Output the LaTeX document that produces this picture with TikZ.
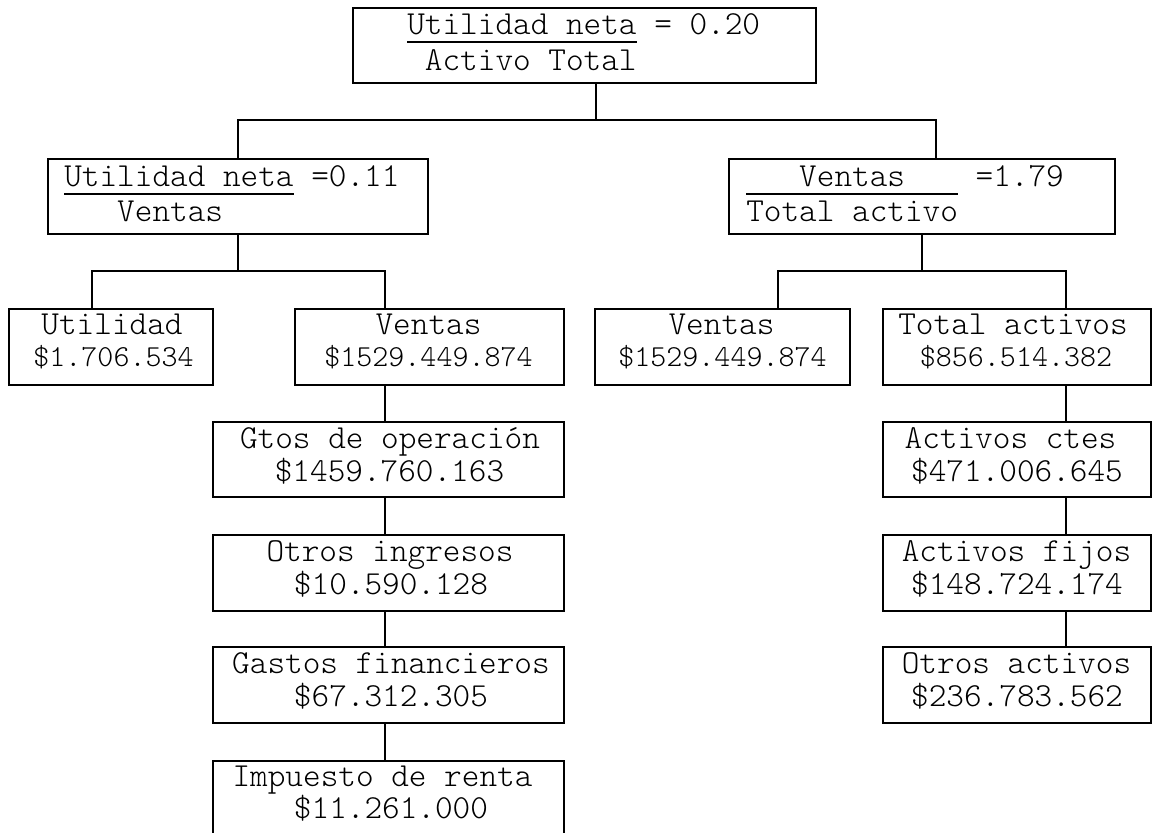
\documentclass[tikz,border=0pt]{standalone}
\usepackage{fontspec}
\setmonofont{Latin Modern Mono Light}
\newcommand\myul[1]{\setbox0\hbox{#1}\rlap{\rule[-9.2pt]{\wd0}{2.4pt}}\box0\relax}
\newcommand\mybox[5]{\node[box, minimum width=#4pt, minimum height=#5pt] (#1) at (#2,#3) {};}
\begin{document}
\begin{tikzpicture}[x=1pt,y=-1pt, line width=2.6pt,
  box/.style={draw, rectangle, inner sep=0pt, outer sep=0pt},
  big/.style={inner sep=0pt, font=\ttfamily\fontsize{33.6}{40}\selectfont},
  small/.style={inner sep=0pt, font=\ttfamily\fontsize{30.5}{36}\selectfont}]
\useasboundingbox (0,0) rectangle (1152,833);

% boxes
\mybox{top}{584.5}{45.5}{463}{75}
\mybox{l2l}{238}{196.5}{380}{75}
\mybox{l2r}{922}{196.5}{386}{75}
\mybox{utl}{111}{347}{204}{76}
\mybox{vtl}{429.5}{347}{269}{76}
\mybox{vtr}{722.5}{347}{255}{76}
\mybox{tar}{1017}{347}{268}{76}
\mybox{gto}{388.5}{459.5}{351}{75}
\mybox{oin}{388.5}{573}{351}{76}
\mybox{gfi}{388.5}{685}{351}{76}
\mybox{imp}{388.5}{799}{351}{76}
\mybox{acc}{1017}{459.5}{268}{75}
\mybox{afi}{1017}{573}{268}{76}
\mybox{oac}{1017}{685}{268}{76}

% texts
\node[big, anchor=base west] (t1) at (406,34) {\myul{Utilidad neta} = 0.20};
\node[big, anchor=base west] (t2) at (406,70) {~Activo Total};
\node[big, anchor=base west] (l1) at (63,186) {\myul{Utilidad neta} =0.11};
\node[big, anchor=base west] (l2) at (63,221) {~~~Ventas};
\node[big, anchor=base west] (r1) at (745,186) {\myul{~~~Ventas~~~}~=1.79};
\node[big, anchor=base west] (r2) at (745,221) {Total activo};

\node[big, anchor=base] (u1) at (112,334) {Utilidad};
\node[small, anchor=base] (u2) at (113.5,366) {\$1.706.534};
\node[big, anchor=base] (v1) at (428.5,334) {Ventas};
\node[small, anchor=base] (v2) at (428.5,366) {\$1529.449.874};
\node[big, anchor=base] (w1) at (721.5,334) {Ventas};
\node[small, anchor=base] (w2) at (722.5,366) {\$1529.449.874};
\node[big, anchor=base] (a1t) at (1013,334) {Total activos};
\node[small, anchor=base] (a2t) at (1016,366) {\$856.514.382};

\node[big, anchor=base] (g1) at (390,448) {Gtos de operación};
\node[big, anchor=base] (g2) at (389.5,481) {\$1459.760.163};
\node[big, anchor=base] (o1) at (390,561) {Otros ingresos};
\node[big, anchor=base] (o2) at (391,594) {\$10.590.128};
\node[big, anchor=base] (f1) at (391,673) {Gastos financieros};
\node[big, anchor=base] (f2) at (391,706) {\$67.312.305};
\node[big, anchor=base] (i1) at (382.5,786) {Impuesto de renta};
\node[big, anchor=base] (i2) at (391,818) {\$11.261.000};

\node[big, anchor=base] (c1) at (1010.5,448) {Activos ctes};
\node[big, anchor=base] (c2) at (1017,481) {\$471.006.645};
\node[big, anchor=base] (x1) at (1016.5,561) {Activos fijos};
\node[big, anchor=base] (x2) at (1017,594) {\$148.724.174};
\node[big, anchor=base] (y1) at (1016.5,673) {Otros activos};
\node[big, anchor=base] (y2) at (1017,706) {\$236.783.562};

% junctions
\coordinate (j1) at (596,120);
\coordinate (j1r) at (936,120);
\coordinate (j2) at (238,271);
\coordinate (p1) at (92,271);
\coordinate (p2) at (385,271);
\coordinate (q1) at (778,271);
\coordinate (q2) at (1066,271);

% connectors
\draw (top.south -| j1) -- (j1);
\draw (l2l.north) |- (j1r) -- (j1r |- l2r.north);
\draw (l2l.south) -- (j2);
\draw (utl.north -| p1) -- (p1) -- (p2) -- (vtl.north -| p2);
\draw (l2r.south) -- (l2r.south |- q1);
\draw (vtr.north -| q1) -- (q1) -- (q2) -- (tar.north -| q2);
\draw (vtl.south -| p2) -- (gto.north -| p2);
\draw (gto.south -| p2) -- (oin.north -| p2);
\draw (oin.south -| p2) -- (gfi.north -| p2);
\draw (gfi.south -| p2) -- (imp.north -| p2);
\draw (tar.south -| q2) -- (acc.north -| q2);
\draw (acc.south -| q2) -- (afi.north -| q2);
\draw (afi.south -| q2) -- (oac.north -| q2);
\end{tikzpicture}
\end{document}
